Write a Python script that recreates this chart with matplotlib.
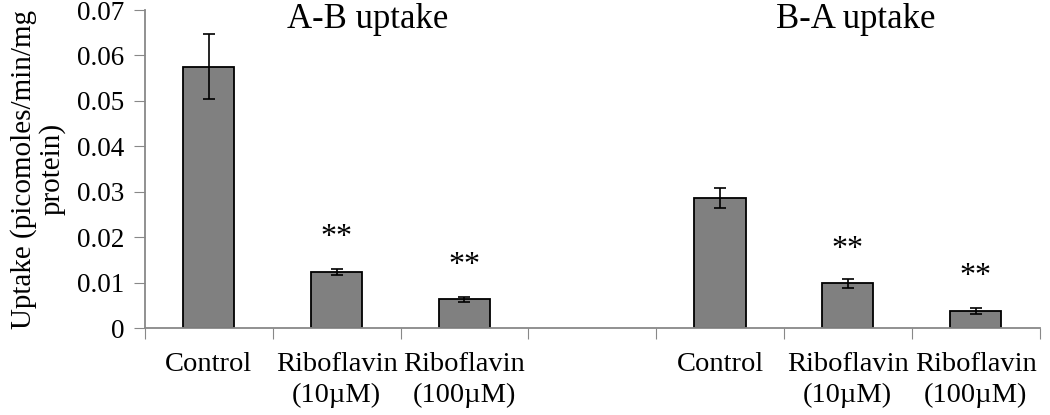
import numpy as np
import matplotlib
matplotlib.use("Agg")
import matplotlib.pyplot as plt

# datos
categories = ["Control", "Riboflavin\n(10\u00b5M)", "Riboflavin\n(100\u00b5M)", "",
              "Control", "Riboflavin\n(10\u00b5M)", "Riboflavin\n(100\u00b5M)"]
uptake = [0.0575, 0.0124, 0.0063, np.nan, 0.0287, 0.0098, 0.0038]
errors = [0.0072, 0.0007, 0.0005, np.nan, 0.0022, 0.0010, 0.0007]
signif = ["", "**", "**", "", "", "**", "**"]
yticks = [0, 0.01, 0.02, 0.03, 0.04, 0.05, 0.06, 0.07]
ytick_labels = ["0", "0.01", "0.02", "0.03", "0.04", "0.05", "0.06", "0.07"]

plt.rcParams['font.family'] = ['Liberation Serif', 'DejaVu Serif']

fig = plt.figure(figsize=(10.5, 4.15), dpi=100)
ax = fig.add_axes([0.138, 0.2096, 0.852, 0.7663])

x = np.arange(len(categories))
ax.bar(x, uptake, width=0.4, color='#808080', edgecolor='black', linewidth=1.3,
       yerr=errors, capsize=4, error_kw=dict(ecolor='black', elinewidth=1.2, capthick=1.2))

# asteriscos de significancia
for i, s in enumerate(signif):
    if s:
        ax.annotate(s, (x[i], uptake[i]), xytext=(0, 19), textcoords='offset points',
                    ha='center', va='baseline', fontsize=23)

ax.text(1.24, 0.0661, "A-B uptake", ha='center', va='baseline', fontsize=25)
ax.text(5.06, 0.0661, "B-A uptake", ha='center', va='baseline', fontsize=25)

ax.set_xlim(-0.5, len(categories) - 0.5)
ax.set_ylim(0, 0.07)
ax.set_yticks(yticks)
ax.set_yticklabels(ytick_labels, fontsize=19.5)

# marcas en los limites de categoria, etiquetas al centro
ax.set_xticks(np.arange(-0.5, len(categories), 1.0))
ax.set_xticklabels([])
ax.set_xticks(x, minor=True)
ax.set_xticklabels(categories, minor=True, fontsize=20.5, va='top', linespacing=1.35)
ax.tick_params(axis='x', which='minor', length=0, pad=17)
ax.tick_params(axis='x', which='major', length=8, color='#888888', direction='out')
ax.tick_params(axis='y', length=8, color='#888888', pad=7)

for side in ['top', 'right']:
    ax.spines[side].set_visible(False)
for side in ['left', 'bottom']:
    ax.spines[side].set_color('#888888')
    ax.spines[side].set_linewidth(1.3)

ax.set_ylabel("Uptake (picomoles/min/mg\nprotein)", fontsize=21, linespacing=1.1, labelpad=8)

fig.savefig("out.png", dpi=100)
